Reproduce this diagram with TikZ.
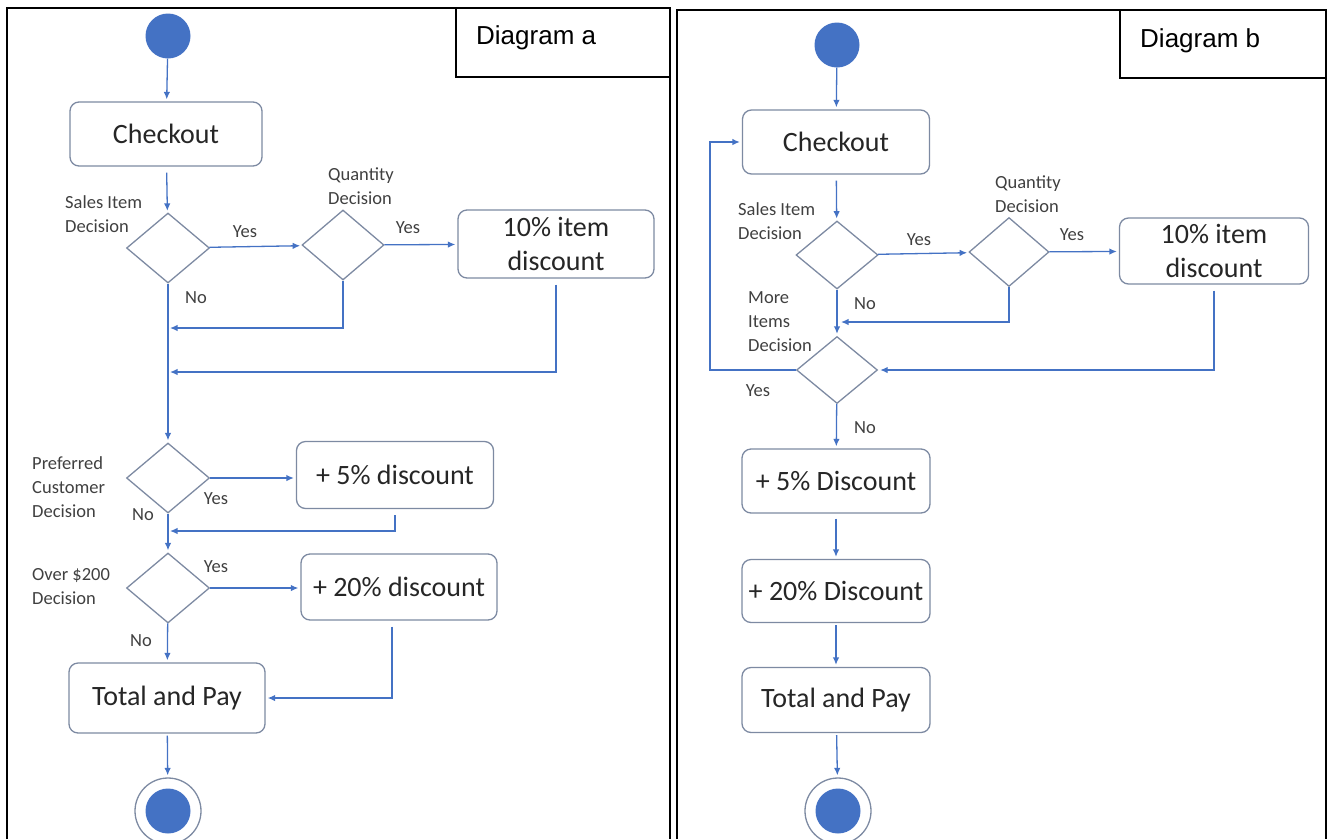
\documentclass[tikz,border=0pt]{standalone}
\usepackage{fontspec}
\setmainfont{Carlito}
\newfontfamily\tagfont{Liberation Sans}
\usetikzlibrary{shapes.geometric,arrows.meta}
\definecolor{ublue}{RGB}{68,114,196}
\definecolor{uline}{RGB}{125,138,162}
\definecolor{utext}{RGB}{38,38,38}
\definecolor{ulabel}{RGB}{64,64,64}
\begin{document}
\begin{tikzpicture}[x=1pt, y=-1pt,
	act/.style = {rectangle, rounded corners = 9pt, draw = uline, line width = 1.3pt, inner sep = 0pt, text = utext, font = \fontsize{28}{34}\selectfont, align = center},
	dec/.style = {diamond, draw = uline, line width = 1.3pt, inner sep = 0pt, minimum width = 83pt, minimum height = 70pt},
	dot/.style = {circle, fill = ublue, inner sep = 0pt, minimum size = 45pt},
	ring/.style = {circle, draw = uline, line width = 1.3pt, inner sep = 0pt, minimum size = 66pt},
	txt/.style = {inner sep = 0pt, text = ulabel, font = \fontsize{18.5}{24}\selectfont, align = left},
	flow/.style = {draw = ublue, line width = 1.3pt, -{Latex[length=7.5pt, width=6.5pt]}, shorten >=2pt},
	frame/.style = {draw = black, line width = 2.5pt, line join = miter},
	tag/.style = {draw = black, line width = 2pt},
	tagtext/.style = {anchor = base west, inner sep = 0pt, font = \tagfont\fontsize{26}{30}\selectfont}]
	\useasboundingbox (0, 0) rectangle (1328, 839);

	\draw[frame] (7, 839) -- (7, 8) -- (670, 8) -- (670, 839);
	\draw[tag] (456, 8) rectangle (670, 77);
	\node (TagA) at (476, 44)	[tagtext]	{Diagram a};

	\node (Start1) at (168, 36)	[dot]	{};
	\node (Check1) at (166, 134)	[act, minimum width = 192pt, minimum height = 64pt]	{Checkout};
	\node (Sales1) at (168, 248)	[dec]	{};
	\node (Qty1) at (343, 245)	[dec, minimum width = 82pt]	{};
	\node (Item1) at (556, 244)	[act, minimum width = 196pt, minimum height = 68pt]	{10\% item\\discount};
	\node (Pref1) at (168, 478)	[dec]	{};
	\node (Five1) at (395, 475)	[act, minimum width = 197pt, minimum height = 67pt]	{+ 5\% discount};
	\node (Over1) at (168, 588)	[dec]	{};
	\node (Twenty1) at (399, 587)	[act, minimum width = 196pt, minimum height = 66pt]	{+ 20\% discount};
	\node (Pay1) at (167, 698)	[act, minimum width = 196pt, minimum height = 70pt]	{Total and Pay};
	\node (End1) at (168, 811)	[ring]	{};
	\node (Fill1) at (End1)	[dot]	{};
	\coordinate (J1) at (168, 328);
	\coordinate (J2) at (168, 372);
	\coordinate (J3) at (168, 531);

	\node (LSales1) at (65, 214)	[txt, anchor = west]	{Sales Item\\Decision};
	\node (LQty1) at (328, 186)	[txt, anchor = west]	{Quantity\\Decision};
	\node (LYes1) at (245, 232)	[txt]	{Yes};
	\node (LYes2) at (408, 228)	[txt]	{Yes};
	\node (LNo1) at (196, 298)	[txt]	{No};
	\node (LPref1) at (32, 487)	[txt, anchor = west]	{Preferred\\Customer\\Decision};
	\node (LYes3) at (216, 499)	[txt]	{Yes};
	\node (LNo2) at (143, 515)	[txt]	{No};
	\node (LOver1) at (32, 587)	[txt, anchor = west]	{Over \$200\\Decision};
	\node (LYes4) at (216, 567)	[txt]	{Yes};
	\node (LNo3) at (141, 641)	[txt]	{No};

	\draw[flow] (Start1) -- (Check1);
	\draw[flow, shorten <=6pt] (Check1) -- (Sales1);
	\draw[flow] (Sales1) -- (Qty1);
	\draw[flow] (Qty1) -- (Item1);
	\draw[flow] (Sales1) -- (Pref1);
	\draw[flow] (Qty1) |- (J1);
	\draw[flow, shorten <=6pt] (Item1) |- (J2);
	\draw[flow] (Pref1) -- (Pref1 -| Five1.west);
	\draw[flow, shorten <=6pt] (Five1) |- (J3);
	\draw[flow] (Pref1) -- (Over1);
	\draw[flow] (Over1) -- (Over1 -| Twenty1.west);
	\draw[flow] (Over1) -- (Pay1);
	\draw[flow, shorten <=6pt] ([xshift=-7pt]Twenty1.south) |- (Pay1);
	\draw[flow, shorten <=2pt] (Pay1) -- (End1);

	\draw[frame] (677, 839) -- (677, 10) -- (1326, 10) -- (1326, 839);
	\draw[tag] (1120, 10) rectangle (1326, 78);
	\node (TagB) at (1140, 47)	[tagtext]	{Diagram b};

	\node (Start2) at (837, 45)	[dot]	{};
	\node (Check2) at (836, 142)	[act, minimum width = 187pt, minimum height = 64pt]	{Checkout};
	\node (Sales2) at (837, 255)	[dec, minimum width = 82pt, minimum height = 68pt]	{};
	\node (Qty2) at (1009, 252)	[dec, minimum width = 80pt, minimum height = 69pt]	{};
	\node (Item2) at (1214, 251)	[act, minimum width = 189pt, minimum height = 66pt]	{10\% item\\discount};
	\node (More2) at (837, 370)	[dec, minimum width = 81pt, minimum height = 67pt]	{};
	\node (Five2) at (836, 481)	[act, minimum width = 188pt, minimum height = 64pt]	{+ 5\% Discount};
	\node (Twenty2) at (836, 591)	[act, minimum width = 188pt, minimum height = 63pt]	{+ 20\% Discount};
	\node (Pay2) at (836, 700)	[act, minimum width = 188pt, minimum height = 65pt]	{Total and Pay};
	\node (End2) at (838, 811)	[ring]	{};
	\node (Fill2) at (End2)	[dot]	{};
	\coordinate (J4) at (839, 322);
	\coordinate (J5) at (710, 370);

	\node (LSales2) at (738, 221)	[txt, anchor = west]	{Sales Item\\Decision};
	\node (LQty2) at (995, 194)	[txt, anchor = west]	{Quantity\\Decision};
	\node (LYes5) at (919, 240)	[txt]	{Yes};
	\node (LYes6) at (1072, 235)	[txt]	{Yes};
	\node (LMore2) at (748, 322)	[txt, anchor = west]	{More\\Items\\Decision};
	\node (LNo4) at (865, 304)	[txt]	{No};
	\node (LYes7) at (758, 391)	[txt]	{Yes};
	\node (LNo5) at (865, 428)	[txt]	{No};

	\draw[flow] (Start2) -- (Check2);
	\draw[flow, shorten <=6pt] (Check2) -- (Sales2);
	\draw[flow] (Sales2) -- (Qty2);
	\draw[flow] (Qty2) -- (Item2);
	\draw[flow] (Sales2) -- (More2);
	\draw[flow] (Qty2) |- (J4);
	\draw[flow, shorten <=6pt] (Item2) |- (More2);
	\draw[flow] (More2) -- (J5) |- (Check2);
	\draw[flow] (More2) -- (Five2);
	\draw[flow, shorten <=5pt] (Five2) -- (Twenty2);
	\draw[flow, shorten <=2pt] (Twenty2) -- (Pay2);
	\draw[flow, shorten <=2pt] (Pay2) -- (End2);
\end{tikzpicture}
\end{document}
